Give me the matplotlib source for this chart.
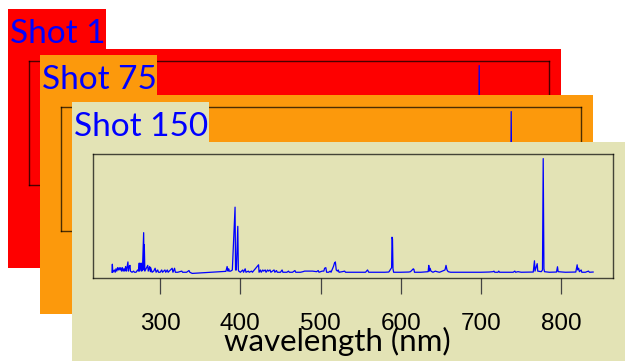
import matplotlib
matplotlib.use('Agg')
import matplotlib.pyplot as plt

# three shots stacked like slides, front one on top
shot_names = ['Shot 1', 'Shot 75', 'Shot 150']
panel_colors = ['#fe0000', '#fc990c', '#e3e3b5']

# spectrum vertices (wavelength nm, normalised intensity)
wavelength_nm = [
    240.0, 240.5, 241.0, 243.0, 244.0, 245.0, 246.0, 247.0, 248.0, 249.0,
    250.0, 251.0, 252.0, 253.0, 254.0, 255.0, 256.0, 257.0, 258.0, 259.9,
    260.5, 261.5, 262.5, 263.0, 265.0, 267.0, 268.0, 270.0, 272.0, 273.0,
    274.0, 274.5, 275.5, 276.3, 277.0, 278.0, 279.5, 280.0, 280.3, 281.0,
    284.6, 285.2, 287.0, 288.0, 288.2, 290.0, 292.0, 293.8, 295.0, 297.0,
    298.0, 300.0, 302.0, 303.0, 306.0, 307.0, 309.0, 310.0, 315.0, 316.0,
    318.0, 319.0, 322.0, 327.0, 328.0, 333.0, 336.0, 337.0, 340.0, 382.0,
    383.5, 384.5, 385.5, 386.0, 388.0, 390.0, 393.4, 394.0, 395.0, 396.8,
    397.5, 398.0, 400.0, 403.0, 404.0, 406.0, 407.0, 410.0, 411.0, 414.0,
    415.0, 422.7, 423.3, 425.0, 426.0, 428.0, 429.0, 431.0, 432.0, 434.0,
    435.0, 437.0, 438.0, 440.0, 442.0, 443.0, 445.0, 446.0, 450.0, 452.0,
    453.0, 458.0, 460.0, 461.0, 465.0, 468.0, 469.0, 475.0, 478.0, 480.0,
    490.0, 495.0, 497.0, 498.0, 500.0, 502.0, 504.0, 505.0, 506.5, 507.5,
    510.0, 512.0, 513.0, 516.0, 517.3, 518.4, 519.5, 521.0, 522.0, 523.0,
    527.0, 530.0, 531.0, 535.0, 545.0, 556.0, 558.5, 560.0, 570.0, 580.0,
    585.0, 588.5, 589.0, 589.6, 590.2, 591.0, 600.0, 610.0, 612.0, 615.5,
    616.3, 617.0, 625.0, 634.0, 634.8, 635.5, 636.5, 637.5, 640.0, 643.0,
    645.0, 648.0, 650.0, 655.0, 656.3, 657.5, 659.0, 662.0, 680.0, 700.0,
    710.0, 715.0, 716.0, 717.0, 721.0, 722.0, 723.0, 740.0, 742.0, 743.0,
    746.0, 750.0, 765.0, 766.5, 767.2, 769.9, 770.6, 775.0, 776.5, 777.4,
    778.3, 779.0, 785.0, 794.0, 795.2, 796.0, 805.0, 818.0, 819.7, 820.5,
    821.6, 822.5, 824.7, 825.5, 830.0, 833.8, 835.0, 839.6,
]
intensity = [
    0.01, 0.08, 0.01, 0.03, 0.01, 0.04, 0.02, 0.05, 0.03, 0.05,
    0.03, 0.05, 0.02, 0.05, 0.02, 0.04, 0.02, 0.06, 0.02, 0.10,
    0.02, 0.06, 0.07, 0.02, 0.01, 0.02, 0.01, 0.01, 0.03, 0.02,
    0.09, 0.02, 0.05, 0.09, 0.02, 0.03, 0.355, 0.03, 0.25, 0.02,
    0.07, 0.02, 0.06, 0.015, 0.05, 0.01, 0.02, 0.045, 0.01, 0.03,
    0.01, 0.01, 0.03, 0.01, 0.03, 0.01, 0.03, 0.01, 0.045, 0.01,
    0.045, 0.01, 0.01, 0.02, 0.01, 0.01, 0.025, 0.01, 0.0, 0.018,
    0.06, 0.02, 0.04, 0.02, 0.02, 0.03, 0.577, 0.03, 0.03, 0.41,
    0.03, 0.02, 0.01, 0.03, 0.01, 0.04, 0.01, 0.02, 0.01, 0.02,
    0.01, 0.075, 0.01, 0.03, 0.01, 0.03, 0.02, 0.03, 0.01, 0.03,
    0.02, 0.03, 0.01, 0.02, 0.03, 0.01, 0.025, 0.01, 0.01, 0.03,
    0.01, 0.01, 0.02, 0.01, 0.01, 0.025, 0.01, 0.01, 0.015, 0.02,
    0.02, 0.015, 0.025, 0.01, 0.015, 0.02, 0.02, 0.045, 0.05, 0.01,
    0.01, 0.02, 0.01, 0.06, 0.09, 0.10, 0.03, 0.02, 0.03, 0.01,
    0.015, 0.02, 0.01, 0.01, 0.01, 0.01, 0.03, 0.01, 0.01, 0.01,
    0.012, 0.05, 0.315, 0.30, 0.04, 0.01, 0.01, 0.012, 0.015, 0.04,
    0.035, 0.01, 0.01, 0.015, 0.07, 0.02, 0.045, 0.02, 0.01, 0.02,
    0.015, 0.01, 0.015, 0.03, 0.07, 0.03, 0.015, 0.01, 0.01, 0.01,
    0.012, 0.015, 0.02, 0.01, 0.01, 0.02, 0.01, 0.01, 0.02, 0.01,
    0.015, 0.01, 0.012, 0.11, 0.02, 0.085, 0.02, 0.015, 0.03, 1.0,
    0.04, 0.015, 0.01, 0.012, 0.058, 0.015, 0.01, 0.012, 0.075, 0.03,
    0.045, 0.015, 0.03, 0.01, 0.01, 0.02, 0.01, 0.012,
]
tick_values = [300, 400, 500, 600, 700, 800]

W, H = 625, 361

# panel geometry in pixels (left, top of the big block; label box right edge)
panel_left = [8, 40, 72]
panel_top = [49, 95, 142]
label_top = [9, 55, 102]
label_right = [106, 157, 209]
PANEL_W, PANEL_H = 553, 219


def rect(x0, y0, x1, y1):
    # pixel box (top-left origin) -> figure fraction
    return [x0 / W, 1 - y1 / H, (x1 - x0) / W, (y1 - y0) / H]


def blank(ax, color):
    ax.set_facecolor(color)
    ax.set_xticks([])
    ax.set_yticks([])
    for s in ax.spines.values():
        s.set_visible(False)


fig = plt.figure(figsize=(W / 100, H / 100), dpi=100)

# each slide holds the same plot; the later slide covers the lower part of the earlier one
for i, name in enumerate(shot_names):
    left, top = panel_left[i], panel_top[i]
    color = panel_colors[i]

    bg = fig.add_axes(rect(left, top, left + PANEL_W, top + PANEL_H))
    blank(bg, color)

    lab = fig.add_axes(rect(left, label_top[i], label_right[i], top))
    blank(lab, color)
    lab.text(2 / (label_right[i] - left), 0.15, name, transform=lab.transAxes,
             color='#0000ff', fontsize=24, family='Lato', ha='left', va='baseline')

    ax = fig.add_axes(rect(left + 20.7, top + 12, left + 20.7 + 520, top + 136))
    ax.set_facecolor('none')
    ax.plot(wavelength_nm, intensity, color='#0000ff', lw=0.9)
    ax.set_xlim(216, 864)
    ax.set_ylim(-0.04, 1.04)
    ax.set_yticks([])
    ax.set_xticks(tick_values)
    ax.tick_params(axis='x', length=11.5, width=0.9, color='#444444', pad=14,
                   labelsize=17.5)
    for t in ax.get_xticklabels():
        t.set_family('Liberation Sans')
    for s in ax.spines.values():
        s.set_color('black')
        s.set_alpha(0.7)
        s.set_linewidth(1.0)
    ax.set_xlabel('wavelength (nm)', fontsize=22.5, family='Lato')
    ax.xaxis.label.set_va('baseline')
    ax.xaxis.set_label_coords(0.4696, -0.59)

fig.savefig('out.png', dpi=100)
